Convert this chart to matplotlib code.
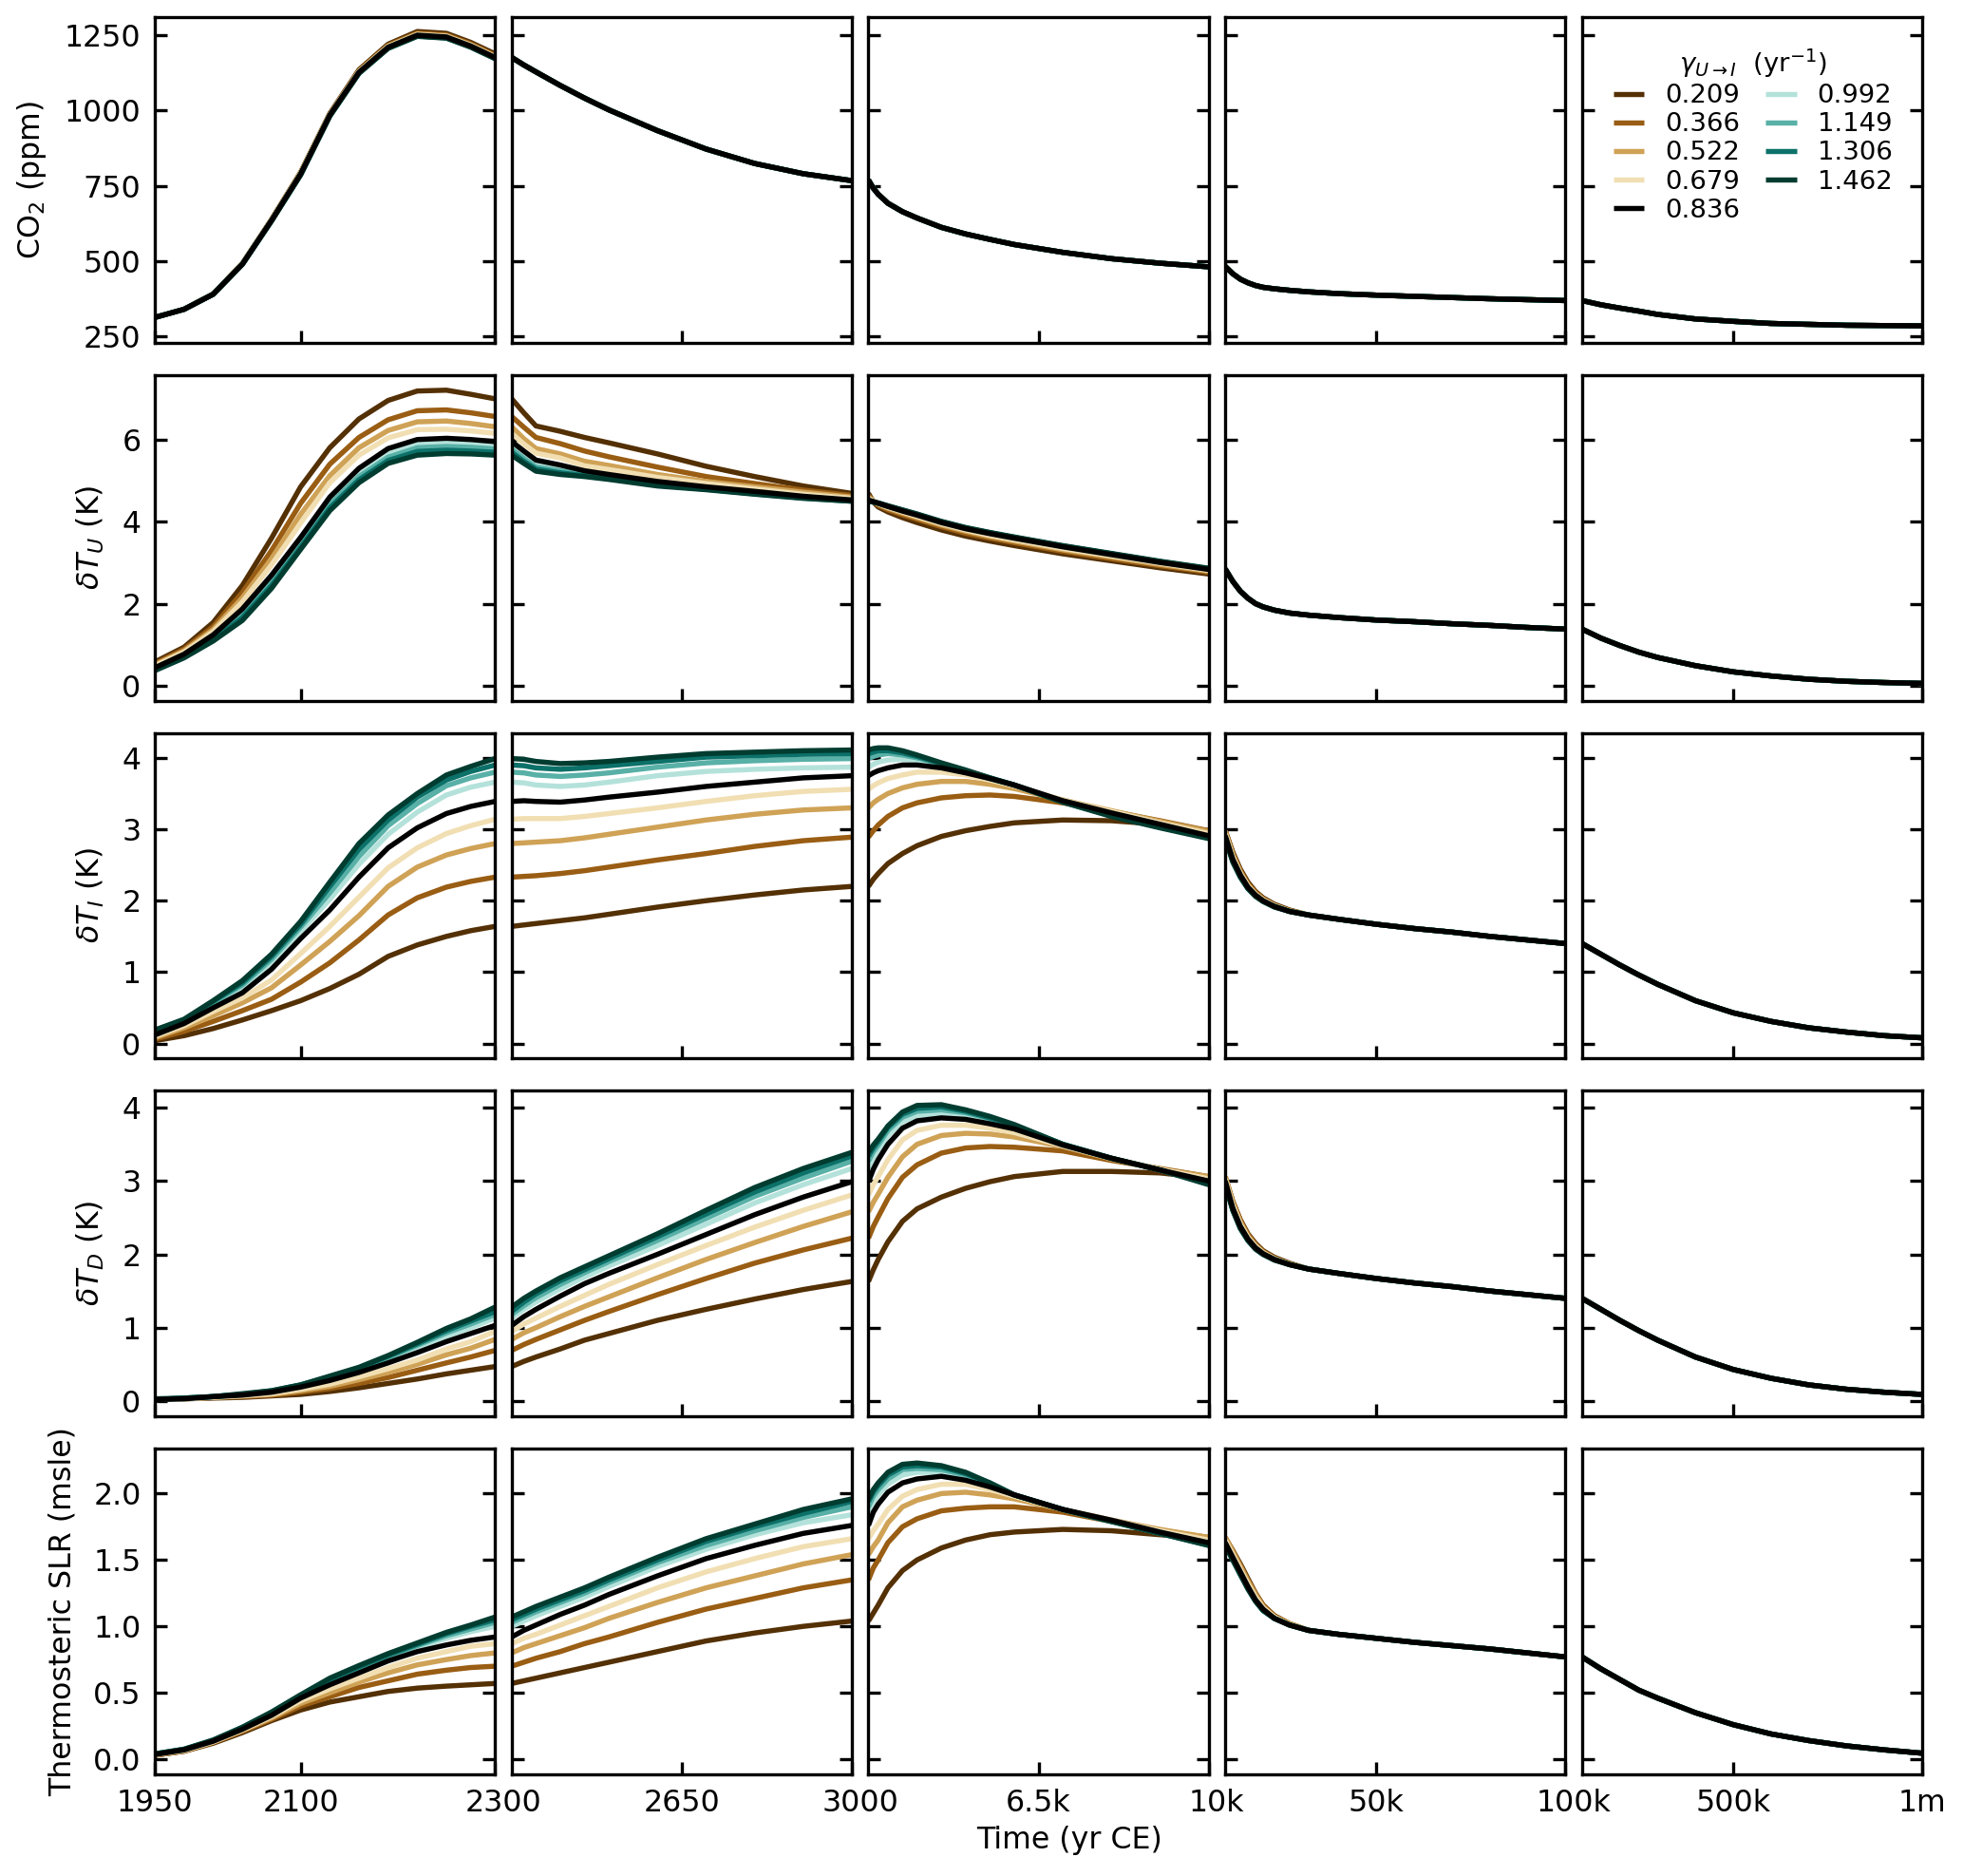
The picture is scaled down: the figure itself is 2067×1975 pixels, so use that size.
import numpy as np
import matplotlib
matplotlib.use("Agg")
import matplotlib.pyplot as plt
from matplotlib.transforms import ScaledTranslation

# ---------------------------------------------------------------------------
# Data.  Tables: one row per time point,
# columns = the nine gamma_{U->I} values (in legend order).  1-D lists are
# shared by all nine runs (the curves overlap completely there).
# ---------------------------------------------------------------------------
gamma_labels = ["0.209", "0.366", "0.522", "0.679", "0.836",
                "0.992", "1.149", "1.306", "1.462"]

# ---- column 1: 1950 - 2300 ----
t_c1 = [1950, 1980, 2010, 2040, 2070, 2100, 2130, 2160, 2190, 2220, 2250, 2275, 2300]
co2_c1 = [
    [313, 313, 313, 313, 313, 313, 313, 313, 313],
    [340, 340, 340, 340, 340, 340, 340, 340, 340],
    [391, 391, 390, 390, 390, 390, 390, 390, 390],
    [492, 491, 491, 490, 490, 490, 490, 489, 489],
    [638, 637, 636, 635, 635, 634, 634, 633, 633],
    [795, 794, 793, 792, 790, 789, 788, 787, 786],
    [990, 988, 987, 986, 985, 984, 983, 982, 981],
    [1135, 1132, 1130, 1129, 1127, 1126, 1125, 1124, 1123],
    [1220, 1216, 1214, 1212, 1210, 1209, 1208, 1207, 1206],
    [1262, 1257, 1254, 1252, 1250, 1249, 1248, 1247, 1246],
    [1256, 1251, 1248, 1246, 1244, 1243, 1242, 1241, 1240],
    [1226, 1221, 1218, 1216, 1214, 1213, 1212, 1211, 1210],
    [1188, 1183, 1180, 1178, 1176, 1175, 1174, 1173, 1172],
]
dTU_c1 = [
    [0.59, 0.55, 0.52, 0.50, 0.45, 0.43, 0.41, 0.40, 0.38],
    [0.95, 0.90, 0.86, 0.83, 0.78, 0.75, 0.73, 0.71, 0.69],
    [1.55, 1.45, 1.38, 1.33, 1.25, 1.20, 1.16, 1.13, 1.10],
    [2.45, 2.28, 2.15, 2.05, 1.88, 1.80, 1.73, 1.67, 1.60],
    [3.60, 3.30, 3.10, 2.95, 2.70, 2.60, 2.52, 2.45, 2.38],
    [4.85, 4.45, 4.18, 3.97, 3.62, 3.52, 3.45, 3.38, 3.33],
    [5.80, 5.40, 5.12, 4.95, 4.60, 4.50, 4.42, 4.34, 4.27],
    [6.50, 6.05, 5.80, 5.62, 5.30, 5.18, 5.10, 5.02, 4.95],
    [6.95, 6.48, 6.22, 6.04, 5.78, 5.66, 5.57, 5.49, 5.42],
    [7.18, 6.70, 6.43, 6.24, 6.00, 5.89, 5.80, 5.71, 5.62],
    [7.20, 6.72, 6.45, 6.25, 6.03, 5.92, 5.83, 5.74, 5.66],
    [7.10, 6.65, 6.39, 6.21, 6.00, 5.90, 5.81, 5.72, 5.65],
    [6.99, 6.56, 6.31, 6.15, 5.95, 5.86, 5.77, 5.69, 5.62],
]
dTI_c1 = [
    [0.04, 0.06, 0.08, 0.10, 0.12, 0.14, 0.16, 0.17, 0.19],
    [0.11, 0.17, 0.22, 0.25, 0.28, 0.30, 0.32, 0.33, 0.34],
    [0.21, 0.31, 0.39, 0.45, 0.50, 0.54, 0.57, 0.59, 0.60],
    [0.33, 0.46, 0.57, 0.64, 0.71, 0.78, 0.82, 0.85, 0.88],
    [0.46, 0.62, 0.78, 0.89, 1.04, 1.12, 1.18, 1.22, 1.25],
    [0.60, 0.86, 1.10, 1.26, 1.47, 1.57, 1.63, 1.67, 1.71],
    [0.77, 1.13, 1.43, 1.64, 1.87, 2.02, 2.11, 2.20, 2.26],
    [0.97, 1.45, 1.79, 2.05, 2.33, 2.51, 2.62, 2.72, 2.80],
    [1.22, 1.80, 2.20, 2.46, 2.74, 2.93, 3.05, 3.13, 3.20],
    [1.38, 2.04, 2.47, 2.74, 3.02, 3.24, 3.36, 3.45, 3.50],
    [1.50, 2.19, 2.64, 2.94, 3.22, 3.48, 3.61, 3.69, 3.76],
    [1.58, 2.27, 2.73, 3.05, 3.32, 3.59, 3.72, 3.81, 3.88],
    [1.64, 2.33, 2.80, 3.14, 3.39, 3.66, 3.80, 3.90, 3.99],
]
dTD_c1 = [
    [0.02, 0.02, 0.02, 0.02, 0.02, 0.02, 0.02, 0.02, 0.03],
    [0.03, 0.03, 0.03, 0.03, 0.03, 0.03, 0.04, 0.04, 0.04],
    [0.04, 0.05, 0.05, 0.05, 0.06, 0.06, 0.06, 0.06, 0.06],
    [0.05, 0.06, 0.07, 0.07, 0.08, 0.09, 0.09, 0.09, 0.10],
    [0.07, 0.08, 0.09, 0.10, 0.12, 0.13, 0.13, 0.14, 0.14],
    [0.09, 0.12, 0.14, 0.16, 0.19, 0.20, 0.21, 0.22, 0.22],
    [0.13, 0.17, 0.20, 0.23, 0.28, 0.30, 0.32, 0.33, 0.34],
    [0.18, 0.24, 0.29, 0.33, 0.39, 0.42, 0.44, 0.45, 0.46],
    [0.24, 0.32, 0.39, 0.44, 0.52, 0.56, 0.59, 0.61, 0.62],
    [0.30, 0.42, 0.50, 0.56, 0.66, 0.72, 0.76, 0.78, 0.80],
    [0.37, 0.52, 0.63, 0.71, 0.81, 0.88, 0.93, 0.96, 0.99],
    [0.42, 0.60, 0.72, 0.81, 0.92, 1.00, 1.05, 1.09, 1.12],
    [0.47, 0.69, 0.84, 0.95, 1.03, 1.13, 1.18, 1.22, 1.28],
]
slr_c1 = [
    [0.030, 0.030, 0.030, 0.035, 0.035, 0.040, 0.040, 0.040, 0.040],
    [0.060, 0.060, 0.065, 0.065, 0.070, 0.070, 0.070, 0.075, 0.075],
    [0.120, 0.125, 0.130, 0.130, 0.135, 0.140, 0.140, 0.140, 0.145],
    [0.200, 0.210, 0.215, 0.220, 0.225, 0.230, 0.235, 0.240, 0.240],
    [0.290, 0.300, 0.310, 0.320, 0.330, 0.340, 0.345, 0.350, 0.355],
    [0.370, 0.400, 0.420, 0.440, 0.460, 0.470, 0.475, 0.480, 0.485],
    [0.430, 0.470, 0.500, 0.530, 0.560, 0.580, 0.590, 0.600, 0.610],
    [0.470, 0.540, 0.580, 0.610, 0.650, 0.670, 0.685, 0.695, 0.705],
    [0.510, 0.590, 0.650, 0.690, 0.740, 0.760, 0.775, 0.785, 0.795],
    [0.535, 0.640, 0.710, 0.760, 0.810, 0.840, 0.855, 0.865, 0.875],
    [0.550, 0.670, 0.750, 0.810, 0.860, 0.910, 0.930, 0.945, 0.955],
    [0.560, 0.690, 0.780, 0.850, 0.895, 0.960, 0.980, 1.000, 1.010],
    [0.570, 0.700, 0.800, 0.870, 0.920, 1.000, 1.030, 1.050, 1.070],
]

# ---- column 2: 2300 - 3000 ----
t_c2 = [2300, 2325, 2350, 2400, 2450, 2500, 2600, 2700, 2800, 2900, 3000]
co2_c2 = [1176, 1151, 1128, 1083, 1041, 1002, 933, 872, 824, 790, 767]
dTU_c2 = [
    [6.99, 6.56, 6.31, 6.15, 5.95, 5.86, 5.77, 5.69, 5.62],
    [6.65, 6.30, 6.02, 5.89, 5.72, 5.62, 5.54, 5.47, 5.42],
    [6.33, 6.05, 5.78, 5.67, 5.50, 5.40, 5.33, 5.28, 5.23],
    [6.20, 5.90, 5.65, 5.55, 5.38, 5.30, 5.24, 5.19, 5.15],
    [6.05, 5.72, 5.47, 5.36, 5.24, 5.18, 5.15, 5.12, 5.10],
    [5.92, 5.58, 5.37, 5.27, 5.15, 5.10, 5.07, 5.05, 5.03],
    [5.65, 5.33, 5.15, 5.08, 4.98, 4.94, 4.91, 4.89, 4.87],
    [5.35, 5.10, 4.98, 4.93, 4.85, 4.82, 4.80, 4.79, 4.78],
    [5.10, 4.93, 4.85, 4.80, 4.74, 4.71, 4.69, 4.68, 4.67],
    [4.87, 4.77, 4.72, 4.67, 4.62, 4.60, 4.59, 4.58, 4.57],
    [4.69, 4.64, 4.60, 4.57, 4.53, 4.52, 4.51, 4.50, 4.50],
]
dTI_c2 = [
    [1.64, 2.33, 2.80, 3.14, 3.39, 3.66, 3.80, 3.90, 3.99],
    [1.66, 2.34, 2.81, 3.15, 3.40, 3.65, 3.79, 3.89, 3.98],
    [1.68, 2.35, 2.82, 3.15, 3.39, 3.62, 3.76, 3.86, 3.95],
    [1.72, 2.38, 2.84, 3.15, 3.38, 3.60, 3.74, 3.84, 3.92],
    [1.76, 2.42, 2.88, 3.18, 3.41, 3.62, 3.76, 3.86, 3.93],
    [1.81, 2.47, 2.93, 3.22, 3.45, 3.66, 3.79, 3.89, 3.95],
    [1.91, 2.57, 3.03, 3.30, 3.52, 3.75, 3.87, 3.95, 4.01],
    [2.00, 2.66, 3.13, 3.39, 3.60, 3.81, 3.93, 4.01, 4.06],
    [2.08, 2.76, 3.21, 3.47, 3.66, 3.84, 3.96, 4.03, 4.08],
    [2.15, 2.84, 3.27, 3.53, 3.72, 3.86, 3.98, 4.05, 4.10],
    [2.20, 2.89, 3.30, 3.56, 3.75, 3.87, 3.99, 4.06, 4.11],
]
dTD_c2 = [
    [0.47, 0.69, 0.84, 0.95, 1.03, 1.13, 1.18, 1.22, 1.28],
    [0.54, 0.77, 0.93, 1.05, 1.15, 1.25, 1.30, 1.35, 1.40],
    [0.60, 0.84, 1.00, 1.13, 1.25, 1.35, 1.41, 1.46, 1.50],
    [0.71, 0.97, 1.15, 1.29, 1.43, 1.53, 1.59, 1.64, 1.68],
    [0.83, 1.10, 1.29, 1.44, 1.60, 1.69, 1.75, 1.79, 1.83],
    [0.92, 1.22, 1.42, 1.59, 1.74, 1.84, 1.90, 1.94, 1.98],
    [1.10, 1.45, 1.68, 1.86, 2.00, 2.12, 2.19, 2.24, 2.28],
    [1.25, 1.67, 1.93, 2.12, 2.27, 2.41, 2.49, 2.55, 2.60],
    [1.39, 1.88, 2.16, 2.37, 2.54, 2.70, 2.79, 2.85, 2.91],
    [1.52, 2.06, 2.38, 2.60, 2.78, 2.95, 3.04, 3.11, 3.17],
    [1.63, 2.22, 2.58, 2.81, 2.99, 3.17, 3.27, 3.34, 3.39],
]
slr_c2 = [
    [0.57, 0.70, 0.80, 0.87, 0.92, 1.00, 1.03, 1.05, 1.07],
    [0.59, 0.73, 0.84, 0.91, 0.97, 1.04, 1.07, 1.09, 1.11],
    [0.61, 0.76, 0.87, 0.94, 1.01, 1.08, 1.11, 1.13, 1.15],
    [0.65, 0.81, 0.93, 1.01, 1.09, 1.15, 1.18, 1.20, 1.22],
    [0.69, 0.87, 0.99, 1.08, 1.16, 1.22, 1.25, 1.27, 1.29],
    [0.73, 0.92, 1.06, 1.15, 1.24, 1.30, 1.33, 1.35, 1.37],
    [0.81, 1.03, 1.18, 1.29, 1.38, 1.45, 1.48, 1.50, 1.52],
    [0.89, 1.13, 1.29, 1.41, 1.51, 1.58, 1.61, 1.64, 1.66],
    [0.95, 1.21, 1.38, 1.51, 1.61, 1.69, 1.72, 1.75, 1.77],
    [1.00, 1.29, 1.47, 1.60, 1.70, 1.78, 1.82, 1.85, 1.88],
    [1.04, 1.35, 1.54, 1.66, 1.76, 1.84, 1.90, 1.94, 1.96],
]

# ---- column 3: 3000 - 10k ----
t_c3 = [3000, 3100, 3200, 3400, 3700, 4000, 4500, 5000, 5500, 6000, 7000, 8000, 9000, 10000]
co2_c3 = [769, 742, 722, 692, 664, 643, 612, 590, 572, 555, 529, 508, 493, 481]
dTU_c3 = [
    [4.69, 4.64, 4.60, 4.57, 4.53, 4.52, 4.51, 4.50, 4.50],
    [4.48, 4.50, 4.51, 4.50, 4.49, 4.49, 4.49, 4.48, 4.48],
    [4.36, 4.40, 4.43, 4.44, 4.45, 4.45, 4.45, 4.45, 4.46],
    [4.24, 4.29, 4.33, 4.35, 4.37, 4.38, 4.38, 4.38, 4.39],
    [4.10, 4.17, 4.21, 4.24, 4.26, 4.27, 4.28, 4.28, 4.29],
    [3.98, 4.06, 4.10, 4.13, 4.16, 4.17, 4.18, 4.18, 4.19],
    [3.80, 3.88, 3.92, 3.95, 3.98, 3.99, 4.00, 4.00, 4.01],
    [3.65, 3.72, 3.77, 3.80, 3.83, 3.84, 3.85, 3.85, 3.86],
    [3.53, 3.60, 3.64, 3.67, 3.71, 3.72, 3.73, 3.73, 3.74],
    [3.42, 3.49, 3.53, 3.56, 3.60, 3.61, 3.62, 3.62, 3.63],
    [3.22, 3.28, 3.32, 3.35, 3.39, 3.40, 3.41, 3.41, 3.42],
    [3.05, 3.10, 3.14, 3.17, 3.20, 3.21, 3.22, 3.22, 3.23],
    [2.88, 2.93, 2.96, 2.99, 3.01, 3.02, 3.03, 3.03, 3.04],
    [2.73, 2.77, 2.80, 2.82, 2.84, 2.85, 2.86, 2.86, 2.87],
]
dTI_c3 = [
    [2.20, 2.89, 3.30, 3.56, 3.75, 3.87, 3.99, 4.06, 4.11],
    [2.30, 2.98, 3.37, 3.61, 3.79, 3.91, 4.02, 4.08, 4.13],
    [2.38, 3.06, 3.42, 3.65, 3.82, 3.94, 4.04, 4.10, 4.14],
    [2.52, 3.18, 3.50, 3.71, 3.86, 3.97, 4.06, 4.10, 4.14],
    [2.66, 3.30, 3.58, 3.76, 3.90, 3.98, 4.04, 4.07, 4.10],
    [2.77, 3.37, 3.63, 3.80, 3.90, 3.96, 4.00, 4.02, 4.04],
    [2.90, 3.44, 3.67, 3.80, 3.86, 3.89, 3.91, 3.92, 3.93],
    [2.98, 3.47, 3.67, 3.76, 3.79, 3.80, 3.81, 3.82, 3.83],
    [3.04, 3.48, 3.63, 3.69, 3.71, 3.71, 3.71, 3.72, 3.72],
    [3.09, 3.46, 3.57, 3.61, 3.62, 3.62, 3.62, 3.62, 3.62],
    [3.13, 3.37, 3.41, 3.41, 3.40, 3.39, 3.39, 3.38, 3.38],
    [3.12, 3.25, 3.26, 3.25, 3.23, 3.21, 3.20, 3.19, 3.18],
    [3.07, 3.12, 3.11, 3.09, 3.07, 3.05, 3.04, 3.03, 3.02],
    [2.98, 2.98, 2.97, 2.94, 2.91, 2.90, 2.89, 2.88, 2.87],
]
dTD_c3 = [
    [1.63, 2.22, 2.58, 2.81, 2.99, 3.17, 3.27, 3.34, 3.39],
    [1.79, 2.38, 2.71, 2.95, 3.16, 3.31, 3.40, 3.45, 3.49],
    [1.93, 2.51, 2.82, 3.06, 3.29, 3.42, 3.49, 3.54, 3.57],
    [2.17, 2.76, 3.05, 3.29, 3.50, 3.62, 3.69, 3.73, 3.75],
    [2.45, 3.05, 3.33, 3.56, 3.72, 3.81, 3.87, 3.91, 3.94],
    [2.62, 3.22, 3.50, 3.69, 3.82, 3.89, 3.95, 3.99, 4.03],
    [2.78, 3.38, 3.62, 3.76, 3.86, 3.92, 3.97, 4.01, 4.04],
    [2.90, 3.45, 3.65, 3.76, 3.84, 3.89, 3.93, 3.95, 3.97],
    [2.99, 3.47, 3.64, 3.72, 3.78, 3.82, 3.85, 3.86, 3.88],
    [3.06, 3.46, 3.60, 3.66, 3.71, 3.74, 3.75, 3.76, 3.77],
    [3.13, 3.41, 3.47, 3.48, 3.49, 3.49, 3.50, 3.50, 3.50],
    [3.13, 3.28, 3.30, 3.31, 3.31, 3.31, 3.31, 3.31, 3.31],
    [3.11, 3.17, 3.16, 3.16, 3.15, 3.15, 3.15, 3.15, 3.15],
    [3.04, 3.06, 3.06, 3.03, 3.00, 2.98, 2.97, 2.96, 2.95],
]
slr_c3 = [
    [1.04, 1.35, 1.54, 1.66, 1.76, 1.84, 1.90, 1.94, 1.96],
    [1.10, 1.44, 1.60, 1.72, 1.86, 1.93, 1.98, 2.01, 2.03],
    [1.16, 1.50, 1.65, 1.77, 1.92, 1.99, 2.03, 2.06, 2.08],
    [1.29, 1.63, 1.78, 1.88, 2.01, 2.07, 2.11, 2.14, 2.16],
    [1.42, 1.75, 1.90, 1.98, 2.08, 2.14, 2.18, 2.20, 2.22],
    [1.50, 1.81, 1.95, 2.03, 2.11, 2.16, 2.19, 2.21, 2.23],
    [1.59, 1.87, 2.00, 2.07, 2.13, 2.16, 2.18, 2.20, 2.21],
    [1.65, 1.89, 2.01, 2.07, 2.10, 2.12, 2.14, 2.15, 2.16],
    [1.69, 1.90, 1.99, 2.03, 2.05, 2.06, 2.07, 2.08, 2.08],
    [1.71, 1.90, 1.96, 1.98, 1.99, 1.99, 1.99, 1.99, 1.99],
    [1.73, 1.86, 1.88, 1.88, 1.88, 1.88, 1.88, 1.88, 1.88],
    [1.72, 1.79, 1.80, 1.80, 1.80, 1.79, 1.79, 1.79, 1.79],
    [1.69, 1.72, 1.73, 1.72, 1.71, 1.71, 1.70, 1.70, 1.70],
    [1.66, 1.67, 1.67, 1.65, 1.63, 1.62, 1.62, 1.61, 1.61],
]

# ---- column 4: 10k - 100k ----
t_c4 = [10000, 12000, 14000, 16000, 18000, 20000, 23000, 27000,
        32000, 40000, 50000, 60000, 70000, 80000, 90000, 100000]
co2_c4 = [482, 458, 440, 428, 419, 413, 408, 403, 398, 392, 387, 383, 379, 375, 372, 369]
dTU_c4 = [2.85, 2.55, 2.31, 2.14, 2.01, 1.93, 1.85, 1.78, 1.73, 1.67, 1.61, 1.57, 1.52, 1.48, 1.43, 1.39]
dTI_c4 = [
    [2.98, 2.98, 2.97, 2.94, 2.91, 2.90, 2.89, 2.88, 2.87],
    [2.68, 2.66, 2.64, 2.61, 2.58, 2.57, 2.56, 2.55, 2.54],
    [2.44, 2.42, 2.40, 2.38, 2.36, 2.35, 2.34, 2.33, 2.33],
    [2.26, 2.24, 2.22, 2.21, 2.19, 2.18, 2.18, 2.17, 2.17],
    [2.13, 2.12, 2.10, 2.09, 2.08, 2.07, 2.07, 2.07, 2.06],
    [2.04, 2.03, 2.02, 2.01, 2.00, 2.00, 1.99, 1.99, 1.99],
    [1.95, 1.94, 1.93, 1.93, 1.92, 1.92, 1.92, 1.92, 1.91],
    [1.87, 1.86, 1.86, 1.85, 1.85, 1.85, 1.85, 1.85, 1.85],
    [1.80, 1.80, 1.80, 1.80, 1.80, 1.80, 1.80, 1.80, 1.80],
    [1.74, 1.74, 1.74, 1.74, 1.74, 1.74, 1.74, 1.74, 1.74],
    [1.67, 1.67, 1.67, 1.67, 1.67, 1.67, 1.67, 1.67, 1.67],
    [1.61, 1.61, 1.61, 1.61, 1.61, 1.61, 1.61, 1.61, 1.61],
    [1.56, 1.56, 1.56, 1.56, 1.56, 1.56, 1.56, 1.56, 1.56],
    [1.50, 1.50, 1.50, 1.50, 1.50, 1.50, 1.50, 1.50, 1.50],
    [1.45, 1.45, 1.45, 1.45, 1.45, 1.45, 1.45, 1.45, 1.45],
    [1.40, 1.40, 1.40, 1.40, 1.40, 1.40, 1.40, 1.40, 1.40],
]
dTD_c4 = [
    [3.04, 3.06, 3.06, 3.03, 3.00, 2.98, 2.97, 2.96, 2.95],
    [2.72, 2.72, 2.70, 2.67, 2.63, 2.62, 2.61, 2.60, 2.60],
    [2.47, 2.46, 2.44, 2.41, 2.38, 2.37, 2.36, 2.36, 2.35],
    [2.28, 2.27, 2.25, 2.23, 2.21, 2.20, 2.19, 2.19, 2.19],
    [2.15, 2.14, 2.12, 2.11, 2.09, 2.08, 2.08, 2.08, 2.07],
    [2.05, 2.04, 2.03, 2.02, 2.01, 2.00, 2.00, 2.00, 2.00],
    [1.96, 1.95, 1.94, 1.94, 1.93, 1.93, 1.93, 1.93, 1.92],
    [1.88, 1.87, 1.87, 1.86, 1.86, 1.86, 1.86, 1.86, 1.86],
    [1.80, 1.80, 1.80, 1.80, 1.80, 1.80, 1.80, 1.80, 1.80],
    [1.74, 1.74, 1.74, 1.74, 1.74, 1.74, 1.74, 1.74, 1.74],
    [1.67, 1.67, 1.67, 1.67, 1.67, 1.67, 1.67, 1.67, 1.67],
    [1.61, 1.61, 1.61, 1.61, 1.61, 1.61, 1.61, 1.61, 1.61],
    [1.56, 1.56, 1.56, 1.56, 1.56, 1.56, 1.56, 1.56, 1.56],
    [1.50, 1.50, 1.50, 1.50, 1.50, 1.50, 1.50, 1.50, 1.50],
    [1.45, 1.45, 1.45, 1.45, 1.45, 1.45, 1.45, 1.45, 1.45],
    [1.40, 1.40, 1.40, 1.40, 1.40, 1.40, 1.40, 1.40, 1.40],
]
slr_c4 = [
    [1.66, 1.67, 1.67, 1.65, 1.63, 1.62, 1.62, 1.61, 1.61],
    [1.57, 1.57, 1.56, 1.54, 1.52, 1.51, 1.51, 1.50, 1.50],
    [1.47, 1.46, 1.45, 1.43, 1.41, 1.40, 1.40, 1.39, 1.39],
    [1.36, 1.35, 1.34, 1.32, 1.30, 1.29, 1.29, 1.29, 1.28],
    [1.25, 1.25, 1.24, 1.22, 1.20, 1.20, 1.19, 1.19, 1.19],
    [1.16, 1.16, 1.15, 1.14, 1.13, 1.12, 1.12, 1.12, 1.12],
    [1.08, 1.08, 1.07, 1.07, 1.06, 1.06, 1.06, 1.06, 1.06],
    [1.02, 1.02, 1.02, 1.01, 1.01, 1.01, 1.01, 1.01, 1.01],
    [0.97, 0.97, 0.97, 0.97, 0.97, 0.97, 0.97, 0.97, 0.97],
    [0.94, 0.94, 0.94, 0.94, 0.94, 0.94, 0.94, 0.94, 0.94],
    [0.91, 0.91, 0.91, 0.91, 0.91, 0.91, 0.91, 0.91, 0.91],
    [0.88, 0.88, 0.88, 0.88, 0.88, 0.88, 0.88, 0.88, 0.88],
    [0.855, 0.855, 0.855, 0.855, 0.855, 0.855, 0.855, 0.855, 0.855],
    [0.83, 0.83, 0.83, 0.83, 0.83, 0.83, 0.83, 0.83, 0.83],
    [0.80, 0.80, 0.80, 0.80, 0.80, 0.80, 0.80, 0.80, 0.80],
    [0.77, 0.77, 0.77, 0.77, 0.77, 0.77, 0.77, 0.77, 0.77],
]

# ---- column 5: 100k - 1m ----
t_c5 = [100000, 150000, 200000, 250000, 300000, 400000, 500000,
        600000, 700000, 800000, 900000, 1000000]
co2_c5 = [369, 355, 344, 334, 323, 308, 300, 293, 290, 287, 286, 285]
dTU_c5 = [1.39, 1.17, 0.99, 0.83, 0.70, 0.50, 0.35, 0.25, 0.17, 0.12, 0.09, 0.07]
dTI_c5 = [1.40, 1.25, 1.10, 0.96, 0.83, 0.60, 0.43, 0.31, 0.22, 0.16, 0.11, 0.08]
dTD_c5 = [1.40, 1.25, 1.10, 0.96, 0.83, 0.60, 0.43, 0.31, 0.22, 0.16, 0.12, 0.09]
slr_c5 = [0.77, 0.68, 0.60, 0.52, 0.46, 0.35, 0.26, 0.19, 0.14, 0.10, 0.07, 0.045]

# axis / tick text
row_labels = ["CO$_2$ (ppm)", r"$\delta T_U$ (K)", r"$\delta T_I$ (K)",
              r"$\delta T_D$ (K)", "Thermosteric SLR (msle)"]
xlims = [(1950, 2300), (2300, 3000), (3000, 10000), (10000, 100000), (100000, 1000000)]
xtick_vals = [[1950, 2100, 2300], [2650, 3000], [6500, 10000], [50000, 100000], [500000, 1000000]]
xtick_text = [["1950", "2100", "2300"], ["2650", "3000"], ["6.5k", "10k"],
              ["50k", "100k"], ["500k", "1m"]]
ylims = [(229, 1310), (-0.35, 7.57), (-0.21, 4.35), (-0.21, 4.23), (-0.114, 2.338)]
ytick_vals = [[250, 500, 750, 1000, 1250], [0, 2, 4, 6], [0, 1, 2, 3, 4],
              [0, 1, 2, 3, 4], [0.0, 0.5, 1.0, 1.5, 2.0]]
ytick_text = [["250", "500", "750", "1000", "1250"], ["0", "2", "4", "6"],
              ["0", "1", "2", "3", "4"], ["0", "1", "2", "3", "4"],
              ["0.0", "0.5", "1.0", "1.5", "2.0"]]

# ---------------------------------------------------------------------------
t_cols = [t_c1, t_c2, t_c3, t_c4, t_c5]
panels = [
    [co2_c1, co2_c2, co2_c3, co2_c4, co2_c5],
    [dTU_c1, dTU_c2, dTU_c3, dTU_c4, dTU_c5],
    [dTI_c1, dTI_c2, dTI_c3, dTI_c4, dTI_c5],
    [dTD_c1, dTD_c2, dTD_c3, dTD_c4, dTD_c5],
    [slr_c1, slr_c2, slr_c3, slr_c4, slr_c5],
]

colors = [tuple(c) for c in plt.cm.BrBG(np.linspace(0, 1, 9))]
colors[4] = (0, 0, 0, 1)

FS = 7.6
LW = 1.3
W, H, DPI = 2067, 1975, 300
fig = plt.figure(figsize=(W / DPI, H / DPI), dpi=DPI)
gs = fig.add_gridspec(5, 5, left=0.0789, right=0.9792, top=0.9909, bottom=0.0542,
                      wspace=0.049, hspace=0.099)
gap_in = 17.5 / DPI

axes = [[fig.add_subplot(gs[r, c]) for c in range(5)] for r in range(5)]
for r in range(5):
    for c in range(5):
        ax = axes[r][c]
        tab = np.asarray(panels[r][c], dtype=float)
        if tab.ndim == 1:
            tab = np.repeat(tab[:, None], 9, axis=1)
        t = np.asarray(t_cols[c], dtype=float)
        for k in range(9):
            ax.plot(t, tab[:, k], color=colors[k], lw=LW,
                    zorder=3 if k == 4 else 2, label=gamma_labels[k],
                    solid_capstyle="butt", solid_joinstyle="round")
        ax.set_xlim(*xlims[c])
        ax.set_ylim(*ylims[r])
        ax.set_yticks(ytick_vals[r])
        ax.set_xticks(xtick_vals[c])
        ax.tick_params(axis="both", direction="in", length=3.2, width=0.8,
                       labelsize=FS, top=False, right=True, left=True)
        for s in ax.spines.values():
            s.set_linewidth(0.8)
        if c == 0:
            ax.set_yticklabels(ytick_text[r])
            ax.set_ylabel(row_labels[r], fontsize=FS)
        else:
            ax.tick_params(axis="y", labelleft=False)
        if r == 4:
            ax.set_xticklabels(xtick_text[c])
            if c < 4:
                lab = ax.xaxis.get_major_ticks()[len(xtick_vals[c]) - 1].label1
                lab.set_transform(lab.get_transform() +
                                  ScaledTranslation(gap_in / 2, 0, fig.dpi_scale_trans))
        else:
            ax.tick_params(axis="x", labelbottom=False)

leg_ax = axes[0][4]
handles = leg_ax.get_lines()[:9]
leg_ax.legend(handles, gamma_labels, ncol=2, loc="upper right", frameon=False,
              fontsize=6.6, title=r"$\gamma_{U\rightarrow I}$  (yr$^{-1}$)",
              title_fontsize=6.6, handlelength=1.17, handletextpad=0.8,
              columnspacing=1.0, labelspacing=0.15, borderaxespad=0.75)

fig.text(0.545, 0.019, "Time (yr CE)", ha="center", va="center", fontsize=FS)

fig.savefig("out.png", dpi=DPI)
